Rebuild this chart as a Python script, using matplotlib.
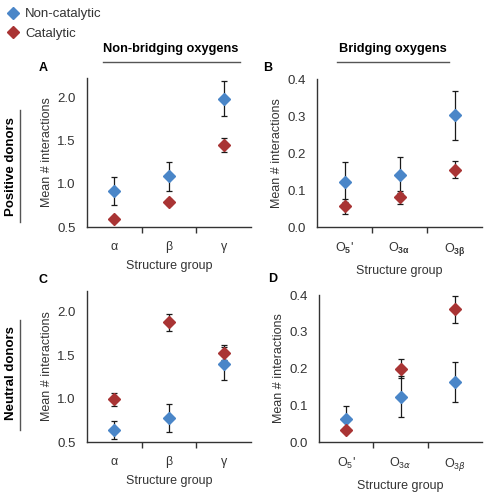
import matplotlib
matplotlib.use("Agg")
import matplotlib.pyplot as plt
from matplotlib.lines import Line2D

plt.rcParams['font.family'] = ['Liberation Sans', 'DejaVu Sans']
plt.rcParams['mathtext.fontset'] = 'custom'
plt.rcParams['mathtext.rm'] = 'Liberation Sans'
plt.rcParams['mathtext.bf'] = 'Liberation Sans:bold'

blue = '#4a86c8'
red = '#a93434'

nb_groups = ['α', 'β', 'γ']
br_groups_b = [r"O$\mathbf{_5}$'", r'O$\mathbf{_{3α}}$', r'O$\mathbf{_{3β}}$']
br_groups_d = [r"O$_5$'", r'O$_{3α}$', r'O$_{3β}$']

# A: positive donors, non-bridging
a_noncat = [0.92, 1.09, 1.99]
a_noncat_err = [0.16, 0.17, 0.20]
a_cat = [0.59, 0.79, 1.45]
a_cat_err = [0.03, 0.03, 0.08]

# B: positive donors, bridging
b_noncat = [0.121, 0.141, 0.302]
b_noncat_err = [0.054, 0.048, 0.066]
b_cat = [0.056, 0.080, 0.155]
b_cat_err = [0.020, 0.018, 0.023]

# C: neutral donors, non-bridging
c_noncat = [0.64, 0.78, 1.40]
c_noncat_err = [0.10, 0.16, 0.19]
c_cat = [0.99, 1.88, 1.53]
c_cat_err = [0.07, 0.10, 0.09]

# D: neutral donors, bridging
d_noncat = [0.063, 0.123, 0.164]
d_noncat_err = [0.034, 0.056, 0.054]
d_cat = [0.034, 0.199, 0.361]
d_cat_err = [0.006, 0.026, 0.037]

W, H = 488, 494
fig = plt.figure(figsize=(W / 100, H / 100), dpi=100)


def px_axes(left, right, bottom, top):
    return fig.add_axes([left / W, 1 - bottom / H, (right - left) / W, (bottom - top) / H])


def panel(ax, labels, noncat, noncat_err, cat, cat_err, ylim, yticks, fmt):
    x = [1, 2, 3]
    ax.errorbar(x, noncat, yerr=noncat_err, fmt='none', ecolor='#1a1a1a',
                elinewidth=0.9, capsize=2, capthick=0.9, zorder=1)
    ax.errorbar(x, cat, yerr=cat_err, fmt='none', ecolor='#1a1a1a',
                elinewidth=0.9, capsize=2, capthick=0.9, zorder=1)
    ax.plot(x, noncat, 'D', color=blue, markersize=6.3, zorder=3)
    ax.plot(x, cat, 'D', color=red, markersize=6.3, zorder=3)
    ax.set_xlim(0.5, 3.5)
    ax.set_ylim(*ylim)
    ax.set_yticks(yticks)
    ax.set_yticklabels([fmt.format(v) for v in yticks])
    ax.set_xticks(x)
    ax.set_xticklabels(labels)
    ax.set_xticks([1.5, 2.5], minor=True)
    ax.tick_params(axis='x', which='major', length=0, pad=10, labelsize=9, colors='#333333')
    ax.tick_params(axis='x', which='minor', length=4, width=1, direction='out', color='#333333')
    ax.tick_params(axis='y', length=0, pad=8, labelsize=9.5, colors='#333333')
    for s in ['top', 'right']:
        ax.spines[s].set_visible(False)
    for s in ['left', 'bottom']:
        ax.spines[s].set_color('#333333')
        ax.spines[s].set_linewidth(1.0)
    ax.set_xlabel('Structure group', fontsize=9, color='#333333', labelpad=5)
    ax.set_ylabel('Mean # interactions', fontsize=9, color='#333333', labelpad=3)


axA = px_axes(87, 251, 227, 78)
panel(axA, nb_groups, a_noncat, a_noncat_err, a_cat, a_cat_err, (0.5, 2.23), [0.5, 1.0, 1.5, 2.0], '{:.1f}')
axB = px_axes(317, 482, 227, 79)
panel(axB, br_groups_b, b_noncat, b_noncat_err, b_cat, b_cat_err, (0.0, 0.4), [0.0, 0.1, 0.2, 0.3, 0.4], '{:.1f}')
axC = px_axes(87, 251, 442, 291)
panel(axC, nb_groups, c_noncat, c_noncat_err, c_cat, c_cat_err, (0.5, 2.24), [0.5, 1.0, 1.5, 2.0], '{:.1f}')
axD = px_axes(319, 482, 442, 295)
panel(axD, br_groups_d, d_noncat, d_noncat_err, d_cat, d_cat_err, (0.0, 0.4), [0.0, 0.1, 0.2, 0.3, 0.4], '{:.1f}')

# panel letters
for letter, (px, py) in zip('ABCD', [(43, 68), (268, 68), (43, 280), (273, 279)]):
    fig.text(px / W, 1 - py / H, letter, fontsize=9, fontweight='bold', ha='center', va='center')

# column headers with underline
fig.text(171 / W, 1 - 49 / H, 'Non-bridging oxygens', fontsize=9.2, fontweight='bold', ha='center', va='center')
fig.add_artist(Line2D([103 / W, 240 / W], [1 - 62 / H, 1 - 62 / H], color='#555555', lw=1))
fig.text(393 / W, 1 - 49 / H, 'Bridging oxygens', fontsize=9.2, fontweight='bold', ha='center', va='center')
fig.add_artist(Line2D([337 / W, 449 / W], [1 - 62 / H, 1 - 62 / H], color='#555555', lw=1))

# row headers with line
fig.text(11 / W, 1 - 167 / H, 'Positive donors', fontsize=9.5, fontweight='bold', rotation=90, ha='center', va='center')
fig.add_artist(Line2D([20 / W, 20 / W], [1 - 110 / H, 1 - 222 / H], color='#555555', lw=1))
fig.text(11 / W, 1 - 373 / H, 'Neutral donors', fontsize=9.5, fontweight='bold', rotation=90, ha='center', va='center')
fig.add_artist(Line2D([20 / W, 20 / W], [1 - 320 / H, 1 - 430 / H], color='#555555', lw=1))

# legend
handles = [Line2D([], [], marker='D', color=blue, linestyle='none', markersize=6.3),
           Line2D([], [], marker='D', color=red, linestyle='none', markersize=6.3)]
fig.legend(handles, ['Non-catalytic', 'Catalytic'], loc='upper left', bbox_to_anchor=(-0.005, 1.0),
           frameon=False, fontsize=9.5, handletextpad=0.3, labelspacing=0.55, borderaxespad=0.2,
           handlelength=1.2, labelcolor='#333333')

fig.savefig('out.png', dpi=100)
